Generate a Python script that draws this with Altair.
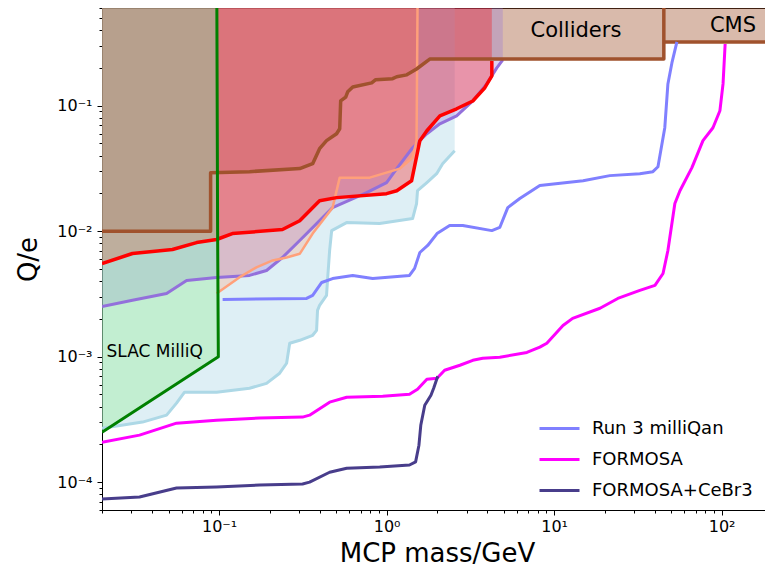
import altair as alt
import pandas as pd

# ---------------- data (x: MCP mass in GeV, y: Q/e) ----------------
colliders_m = [0.02, 0.089, 0.089, 0.152, 0.303, 0.362, 0.398, 0.438, 0.503, 0.525, 0.532, 0.570,
               0.586, 0.628, 0.815, 0.861, 1.087, 1.15, 1.32, 1.51, 1.81, 45.2, 45.2]
colliders_q = [0.01, 0.01, 0.0292, 0.0298, 0.0315, 0.0345, 0.0454, 0.0526, 0.0597, 0.0655, 0.109, 0.117,
               0.129, 0.141, 0.152, 0.161, 0.164, 0.170, 0.176, 0.196, 0.235, 0.235, 0.6]
cms_m = [45.2, 250]
cms_q = [0.322, 0.322]

slac_m = [0.02, 0.099, 0.098, 0.097]
slac_q = [2.5e-4, 1.0e-3, 1.0e-2, 0.6]

lblue_m = [0.02, 0.0349, 0.0486, 0.0557, 0.0622, 0.0966, 0.152, 0.192, 0.230, 0.253, 0.264, 0.303,
           0.362, 0.382, 0.387, 0.398, 0.438, 0.444, 0.457, 0.470, 0.577, 0.908, 1.43, 1.51, 1.53,
           1.74, 1.99, 2.16, 2.55]
lblue_q = [2.69e-4, 3.01e-4, 3.42e-4, 4.26e-4, 5.21e-4, 5.21e-4, 5.60e-4, 6.13e-4, 7.38e-4, 8.86e-4,
           1.28e-3, 1.35e-3, 1.48e-3, 1.62e-3, 2.34e-3, 2.56e-3, 3.08e-3, 4.05e-3, 7.01e-3, 0.0101,
           0.0117, 0.0115, 0.0126, 0.0166, 0.0210, 0.0244, 0.0287, 0.0345, 0.0438]

purple_m = [0.02, 0.0304, 0.0486, 0.064, 0.0966, 0.152, 0.192, 0.239, 0.303, 0.476, 0.760, 1.0, 1.15,
            1.43, 1.74, 2.08, 2.62, 3.27, 3.96, 4.55, 4.94]
purple_q = [2.51e-3, 2.81e-3, 3.19e-3, 4.05e-3, 4.28e-3, 4.44e-3, 4.86e-3, 6.17e-3, 8.42e-3, 0.0154,
            0.0203, 0.0244, 0.0315, 0.0462, 0.0597, 0.0717, 0.0830, 0.109, 0.149, 0.200, 0.232]

salmon_m = [0.0966, 0.132, 0.167, 0.209, 0.253, 0.303, 0.362, 0.476, 0.525, 0.793, 1.20, 1.43, 1.51, 1.53]
salmon_q = [3.19e-3, 4.28e-3, 5.14e-3, 5.84e-3, 6.17e-3, 6.6e-3, 9.57e-3, 0.0154, 0.0267, 0.0267,
            0.0315, 0.0385, 0.0526, 0.6]

red_m = [0.02, 0.0304, 0.0527, 0.0734, 0.0966, 0.120, 0.239, 0.303, 0.398, 0.503, 1.0, 1.15, 1.41,
         1.58, 1.74, 2.08, 2.62, 3.27, 3.86, 4.25, 4.25]
red_q = [5.52e-3, 6.64e-3, 7.14e-3, 8.11e-3, 8.58e-3, 9.57e-3, 0.0103, 0.0121, 0.0175, 0.0185, 0.0199,
         0.0210, 0.0252, 0.0526, 0.0631, 0.0830, 0.0944, 0.109, 0.139, 0.173, 0.227]

run3_m = [0.105, 0.333, 0.362, 0.410, 0.476, 0.628, 0.826, 1.37, 1.47, 1.58, 1.76, 2.0, 2.38, 2.85,
          4.25, 4.74, 5.29, 6.24, 8.22, 14.9, 21.5, 32.5, 38.9, 41.7, 45.8, 47.8, 50.5, 54.1]
run3_q = [2.86e-3, 2.91e-3, 3.08e-3, 3.90e-3, 4.19e-3, 4.44e-3, 4.19e-3, 4.44e-3, 5.05e-3, 6.76e-3,
          7.69e-3, 9.57e-3, 0.0111, 0.0111, 0.0101, 0.0107, 0.0154, 0.0182, 0.0231, 0.0252, 0.0277,
          0.0287, 0.0298, 0.0326, 0.0667, 0.149, 0.219, 0.322]

formosa_m = [0.02, 0.0335, 0.0557, 0.0966, 0.175, 0.315, 0.347, 0.457, 0.578, 0.948, 1.37, 1.53, 1.74,
             2.0, 2.22, 2.74, 3.27, 3.75, 4.74, 6.88, 8.22, 9.05, 11.3, 12.9, 18.8, 24.0, 32.5, 40.0,
             44.7, 47.8, 52.6, 56.4, 66.5, 77.4, 88.8, 97.7, 102, 105]
formosa_q = [2.08e-4, 2.37e-4, 2.95e-4, 3.12e-4, 3.24e-4, 3.30e-4, 3.42e-4, 4.34e-4, 4.75e-4, 4.84e-4,
             5.02e-4, 5.50e-4, 6.61e-4, 6.73e-4, 7.79e-4, 8.54e-4, 9.35e-4, 9.70e-4, 9.88e-4, 1.08e-3,
             1.19e-3, 1.28e-3, 1.77e-3, 2.02e-3, 2.43e-3, 2.91e-3, 3.37e-3, 3.70e-3, 4.60e-3, 7.01e-3,
             0.0166, 0.0210, 0.0321, 0.0526, 0.0667, 0.0910, 0.149, 0.310]

cebr3_m = [0.02, 0.0335, 0.0557, 0.0966, 0.175, 0.315, 0.347, 0.457, 0.578, 0.91, 1.37, 1.49, 1.56,
           1.60, 1.69, 1.84, 1.91, 2.02]
cebr3_q = [7.35e-5, 7.62e-5, 8.98e-5, 9.14e-5, 9.48e-5, 9.66e-5, 1.0e-4, 1.20e-4, 1.29e-4, 1.32e-4,
           1.37e-4, 1.45e-4, 1.97e-4, 2.84e-4, 4.10e-4, 4.93e-4, 5.60e-4, 6.98e-4]

legend_names = ["Run 3 milliQan", "FORMOSA", "FORMOSA+CeBr3"]
legend_colors = ["#8080ff", "#ff00ff", "#483d8b"]

box_labels = ["Colliders", "CMS"]
box_label_m = [13.5, 117]
box_label_q = [0.395, 0.43]
slac_label = ["SLAC MilliQ"]
slac_label_m = [0.0213]
slac_label_q = [1.08e-3]

# axis ranges (the visible part of the reference's x range)
x_min, x_max = 0.02, 181.6
y_min, y_max = 6e-5, 0.6

# ---------------- helpers ----------------
def frame(ms, qs):
    return pd.DataFrame({"m": ms, "q": qs, "i": list(range(len(ms)))})

FONT = "DejaVu Sans"
LOGV = "(log(datum.value)/LN10)"
MAJOR = f"abs({LOGV} - round({LOGV})) < 1e-6"
LABEL = (f"{MAJOR} ? '10' + (round({LOGV}) < 0 ? '⁻' : '') + "
         f"['⁰','¹','²','³','⁴','⁵'][abs(round({LOGV}))] : ''")

x_ticks = sorted({round(k * 10.0 ** d, 8) for d in range(-2, 3) for k in range(1, 10)
                  if x_min - 1e-12 <= k * 10.0 ** d <= x_max})
y_ticks = sorted({round(k * 10.0 ** d, 10) for d in range(-5, 0) for k in range(1, 10)
                  if y_min - 1e-15 <= k * 10.0 ** d <= y_max + 1e-12})

common_axis = dict(
    grid=False, labelExpr=LABEL, labelOverlap=False, labelFlush=False, labelBound=False,
    tickSize={"condition": {"test": MAJOR, "value": 5}, "value": 3},
    tickColor="black", tickWidth=1, domainColor="black", domainWidth=1,
    labelFont=FONT, labelFontSize=16, labelColor="black",
    titleFont=FONT, titleFontSize=26, titleFontWeight="normal", titleColor="black",
)
xaxis = alt.Axis(title="MCP mass/GeV", values=x_ticks, labelPadding=3,
                 titleBaseline="alphabetic", titleX=335, titleY=51, **common_axis)
yaxis = alt.Axis(title="Q/e", values=y_ticks, labelPadding=5,
                 titleBaseline="alphabetic", titleX=-66, titleY=251, **common_axis)

xscale = alt.Scale(type="log", domain=[x_min, x_max], nice=False)
yscale = alt.Scale(type="log", domain=[y_min, y_max], nice=False)
X = alt.X("m:Q", scale=xscale, axis=xaxis, stack=None)
Y = alt.Y("q:Q", scale=yscale, axis=yaxis, stack=None)


def fill(ms, qs, color, opacity):
    return alt.Chart(frame(ms, qs)).mark_area(color=color, opacity=opacity, clip=True).encode(
        x=X, y=Y, y2=alt.value(0))


def line(ms, qs, color, width):
    return alt.Chart(frame(ms, qs)).mark_line(color=color, strokeWidth=width, clip=True,
                                              strokeJoin="round").encode(
        x=X, y=Y, order="i:Q")


SIENNA = "#a0522d"
layers = [
    fill(colliders_m, colliders_q, SIENNA, 0.4),
    fill(cms_m, cms_q, SIENNA, 0.4),
    fill(lblue_m, lblue_q, "#add8e6", 0.4),
    fill(purple_m, purple_q, "#9370db", 0.3),
    fill(salmon_m, salmon_q, "#ffa07a", 0.3),
    fill(red_m, red_q, "#ff0000", 0.3),
    alt.Chart(frame(slac_m, slac_q)).mark_area(color="#90ee90", opacity=0.35, orient="horizontal",
                                               clip=True).encode(
        x=X, x2=alt.value(0), y=Y),
    line(lblue_m, lblue_q, "#add8e6", 3),
    line(purple_m, purple_q, "#9370db", 3),
    line(salmon_m, salmon_q, "#ffa07a", 2.5),
    line(red_m, red_q, "#ff0000", 3.5),
    line(colliders_m, colliders_q, SIENNA, 3.5),
    line(cms_m, cms_q, SIENNA, 3.5),
    line(slac_m, slac_q, "#008000", 3),
]

series = []
for name, ms, qs in zip(legend_names, [run3_m, formosa_m, cebr3_m], [run3_q, formosa_q, cebr3_q]):
    df = frame(ms, qs)
    df["series"] = name
    series.append(df)
series_df = pd.concat(series, ignore_index=True)

legend_lines = alt.Chart(series_df).mark_line(strokeWidth=3, clip=True, strokeJoin="round").encode(
    x=X, y=Y, order="i:Q",
    color=alt.Color("series:N", scale=alt.Scale(domain=legend_names, range=legend_colors),
                    legend=alt.Legend(title=None, orient="none", legendX=436, legendY=399,
                                      symbolType="stroke", symbolSize=1600, symbolStrokeWidth=3,
                                      labelFont=FONT, labelFontSize=18, labelColor="black",
                                      labelLimit=400, rowPadding=-15, labelOffset=11,
                                      symbolOpacity=1)),
)
layers.append(legend_lines)

box_text = alt.Chart(pd.DataFrame({"m": box_label_m, "q": box_label_q, "t": box_labels})).mark_text(
    font=FONT, fontSize=21, color="black", baseline="middle", align="center").encode(x=X, y=Y, text="t:N")
slac_text = alt.Chart(pd.DataFrame({"m": slac_label_m, "q": slac_label_q, "t": slac_label})).mark_text(
    font=FONT, fontSize=17, color="black", baseline="middle", align="left").encode(x=X, y=Y, text="t:N")
layers += [box_text, slac_text]

chart = alt.layer(*layers).properties(
    width=663, height=502,
    autosize=alt.AutoSizeParams(type="none"),
    padding={"left": 94, "top": 0, "right": 0, "bottom": 57},
).configure_view(stroke="black", strokeWidth=1)

chart.save("out.html", embed_options={"renderer": "svg", "actions": False})
